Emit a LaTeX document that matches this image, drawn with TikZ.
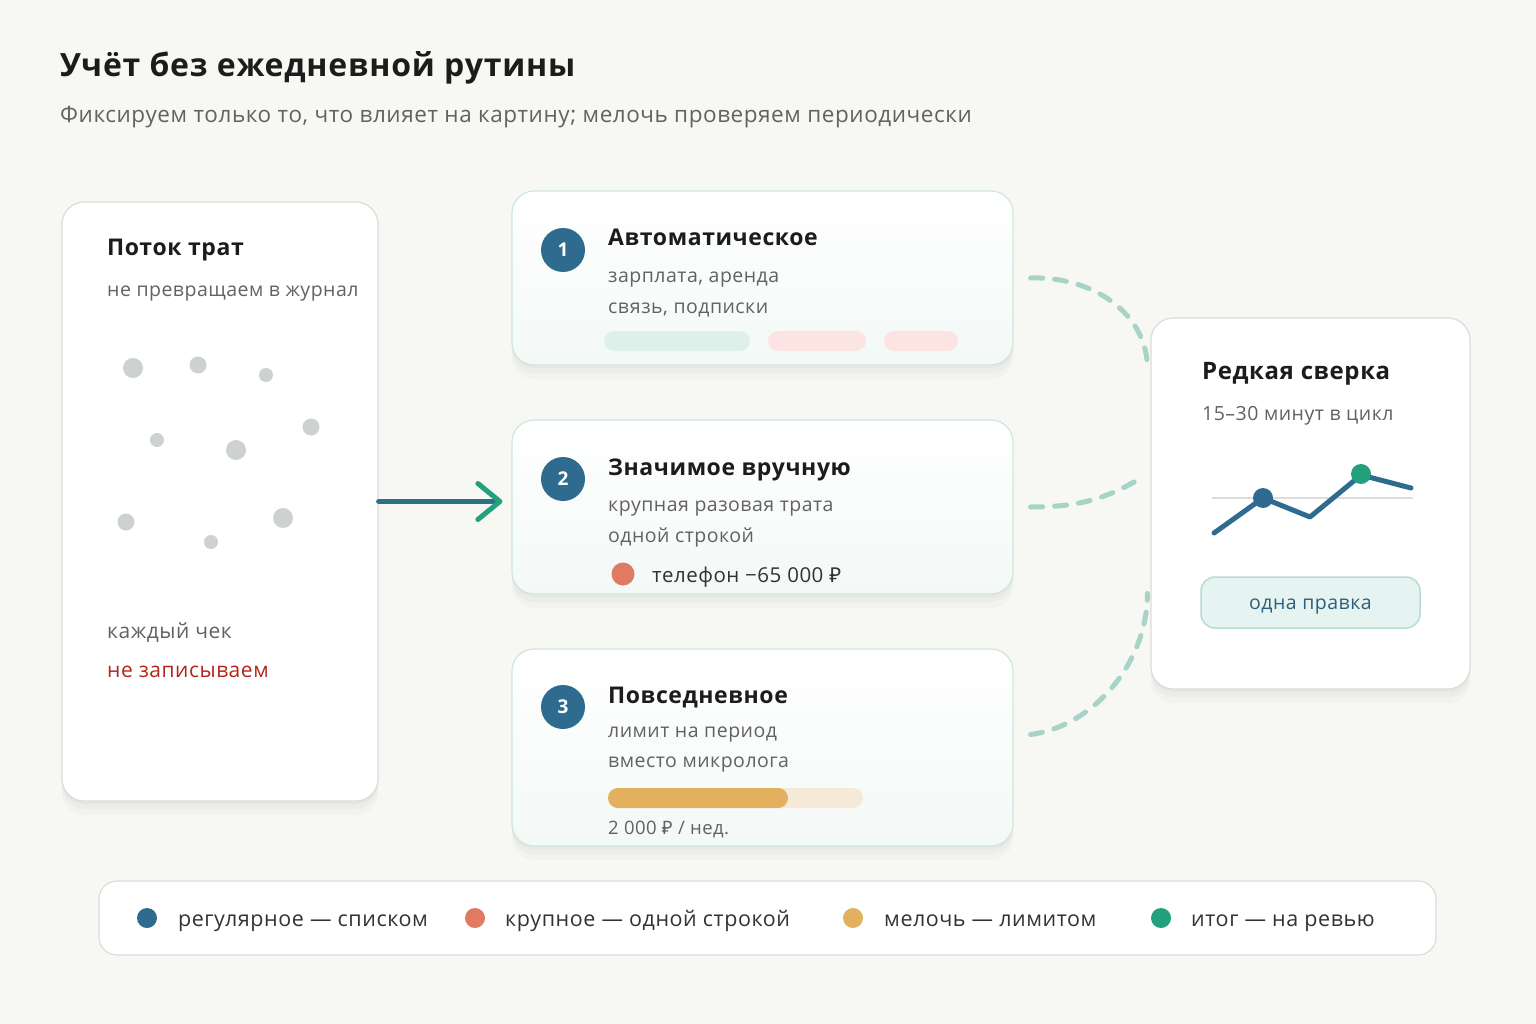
\documentclass[tikz,border=0pt]{standalone}
\usepackage{fontspec}
\setmainfont{Open Sans}[LetterSpace=2.5]
\newfontfamily\rubfont{Noto Sans}[LetterSpace=2.5]
\newcommand{\rub}{{\rubfont ₽}}
\usetikzlibrary{arrows.meta}
\definecolor{cnbg}{HTML}{F7F7F4}
\definecolor{cnink}{HTML}{1C1C1C}
\definecolor{cngray}{HTML}{626262}
\definecolor{cntext}{HTML}{333333}
\definecolor{cnedge}{HTML}{DCDCDA}
\definecolor{cnmintedge}{HTML}{CFE6DF}
\definecolor{cnmint}{HTML}{F3F9F7}
\definecolor{cnblue}{HTML}{2E6B8E}
\definecolor{cnteal}{HTML}{2B7286}
\definecolor{cngreen}{HTML}{23A07C}
\definecolor{cnorange}{HTML}{E07B62}
\definecolor{cngold}{HTML}{E2B05E}
\definecolor{cnred}{HTML}{B3261E}
\definecolor{cndash}{HTML}{A8D3C8}
\definecolor{cndot}{HTML}{CDD2D1}
\definecolor{cnpill}{HTML}{DDF0EA}
\definecolor{cnpink}{HTML}{FBE4E2}
\definecolor{cnbar}{HTML}{F5EAD8}
\definecolor{cnbtn}{HTML}{E6F4F1}
\definecolor{cnbtnedge}{HTML}{B5DCD2}
\definecolor{cnbtntext}{HTML}{2E5F7A}

\begin{document}
\begin{tikzpicture}[x=1pt, y=-1pt,
  card/.style={draw=cnedge, line width=1.2pt, fill=white, rounded corners=22pt, inner sep=0pt},
  lifted/.style={preaction={fill=black, fill opacity=0.02, draw=none, transform canvas={yshift=-14pt}},
                 preaction={fill=black, fill opacity=0.025, draw=none, transform canvas={yshift=-8pt}},
                 preaction={fill=black, fill opacity=0.025, draw=none, transform canvas={yshift=-3pt}}},
  stepcard/.style={card, lifted, draw=cnmintedge, top color=white, bottom color=cnmint,
    minimum width=501pt},
  txt/.style={anchor=base west, inner sep=0pt},
  big/.style={txt, text=cnink, font=\fontsize{32}{38}\selectfont\bfseries},
  sub/.style={txt, text=cngray, font=\fontsize{22.5}{27}\selectfont},
  hd/.style={txt, text=cnink, font=\fontsize{23}{28}\selectfont\bfseries},
  body/.style={txt, text=cngray, font=\fontsize{19.5}{23}\selectfont},
  num/.style={circle, fill=cnblue, minimum size=44pt, inner sep=0pt, text=white,
    font=\fontsize{19}{23}\selectfont\bfseries},
  key/.style={circle, minimum size=20pt, inner sep=0pt},
  keytext/.style={txt, text=cntext, font=\fontsize{21.5}{25}\selectfont},
  link/.style={draw=cndash, line width=5pt, line cap=round, dash pattern=on 12pt off 12pt}]

  \useasboundingbox (0,0) rectangle (1536,1024);
  \fill[cnbg] (0,0) rectangle (1536,1024);

  % heading
  \node[big] (title) at (60,77) {Учёт без ежедневной рутины};
  \node[sub] (subtitle) at (60,123) {Фиксируем только то, что влияет на картину; мелочь проверяем периодически};

  % left card
  \node[card, lifted, minimum width=316pt, minimum height=599pt] (flow) at (220,501.5) {};
  \node[hd] (flowtitle) at (107,256) {Поток трат};
  \node[body] (flownote) at (107,296) {не превращаем в журнал};
  \foreach \x/\y/\r in {133/368/10, 198/365/8.5, 266/375/7, 157/440/7, 236/450/10,
                        311/427/8.5, 126/522/8.5, 211/542/7, 283/518/10}
    \fill[cndot] (\x,\y) circle (\r);
  \node[body, font=\fontsize{21}{25}\selectfont] (flowcheck) at (107,638) {каждый чек};
  \node[body, text=cnred, font=\fontsize{21}{25}\selectfont] (flowno) at (107,677) {не записываем};

  % three steps
  \node[stepcard, minimum height=174pt] (card1) at (762.5,278) {};
  \node[stepcard, minimum height=174pt] (card2) at (762.5,507) {};
  \node[stepcard, minimum height=197pt] (card3) at (762.5,747.5) {};

  \node[num] (n1) at (563,250) {1};
  \node[hd] (t1) at (608,246) {Автоматическое};
  \node[body] (a1) at (608,283) {зарплата, аренда};
  \node[body] (b1) at (608,313) {связь, подписки};
  \fill[cnpill, rounded corners=10pt] (604,331) rectangle (750,351);
  \fill[cnpink, rounded corners=10pt] (768,331) rectangle (866,351);
  \fill[cnpink, rounded corners=10pt] (884,331) rectangle (958,351);

  \node[num] (n2) at (563,479) {2};
  \node[hd] (t2) at (608,475) {Значимое вручную};
  \node[body] (a2) at (608,511) {крупная разовая трата};
  \node[body] (b2) at (608,542) {одной строкой};
  \node[key, fill=cnorange, minimum size=23pt] (d2) at (623,574) {};
  \node[body, text=cntext, font=\fontsize{20.5}{24}\selectfont] (c2) at (652,582) {телефон −65~000 \rub};

  \node[num] (n3) at (563,707) {3};
  \node[hd] (t3) at (608,703) {Повседневное};
  \node[body] (a3) at (608,737) {лимит на период};
  \node[body] (b3) at (608,767) {вместо микролога};
  \fill[cnbar, rounded corners=10pt] (608,788) rectangle (863,808);
  \fill[cngold, rounded corners=10pt] (608,788) rectangle (788,808);
  \node[body, font=\fontsize{18.5}{22}\selectfont] (c3) at (608,834) {2~000 \rub{} / нед.};

  % review card
  \node[card, lifted, minimum width=319pt, minimum height=371pt] (review) at (1310.5,503.5) {};
  \node[hd, font=\fontsize{24}{29}\selectfont\bfseries] (rtitle) at (1202,379) {Редкая сверка};
  \node[body] (rnote) at (1202,420) {15–30 минут в цикл};
  \draw[cnedge, line width=1.2pt] (1212,498) -- (1413,498);
  \draw[cnblue, line width=5pt, line cap=round, line join=round]
    (1214,533) -- (1263,498) -- (1310,517) -- (1361,475) -- (1411,488);
  \fill[cnblue] (1263,498) circle (10);
  \fill[cngreen] (1361,474) circle (10);
  \node[draw=cnbtnedge, line width=1.5pt, fill=cnbtn, rounded corners=14pt,
        minimum width=219pt, minimum height=51pt, text=cnbtntext, text height=14pt, text depth=0pt,
        font=\fontsize{19.5}{23}\selectfont] (fix) at (1310.5,602.5) {одна правка};

  % arrow and links
  \draw[cnteal, line width=5pt, line cap=round,
        -{Straight Barb[length=22pt, width=36pt, line width=5pt, round, color=cngreen]}]
    (flow.east) -- ([xshift=-9pt]flow.east -| card2.west);
  \draw[link] ([xshift=17pt]card1.east) .. controls +(62,-2) and +(0,-55) .. ([xshift=-3pt, yshift=135pt]review.west);
  \draw[link] ([xshift=17pt]card2.east) .. controls +(50,0) and +(-35,20) .. ([xshift=-10pt, yshift=25pt]review.west);
  \draw[link] ([xshift=17pt, yshift=13pt]card3.east) .. controls +(62,-8) and +(0,70) .. ([xshift=-3pt, yshift=-90pt]review.west);

  % legend
  \node[card, rounded corners=18pt, minimum width=1337pt, minimum height=74pt] (legend) at (767.5,918) {};
  \node[key, fill=cnblue] (k1) at (147,918) {};
  \node[keytext] (l1) at (178,926) {регулярное — списком};
  \node[key, fill=cnorange] (k2) at (475,918) {};
  \node[keytext] (l2) at (505,926) {крупное — одной строкой};
  \node[key, fill=cngold] (k3) at (853,918) {};
  \node[keytext] (l3) at (884,926) {мелочь — лимитом};
  \node[key, fill=cngreen] (k4) at (1161,918) {};
  \node[keytext] (l4) at (1191,926) {итог — на ревью};
\end{tikzpicture}
\end{document}
